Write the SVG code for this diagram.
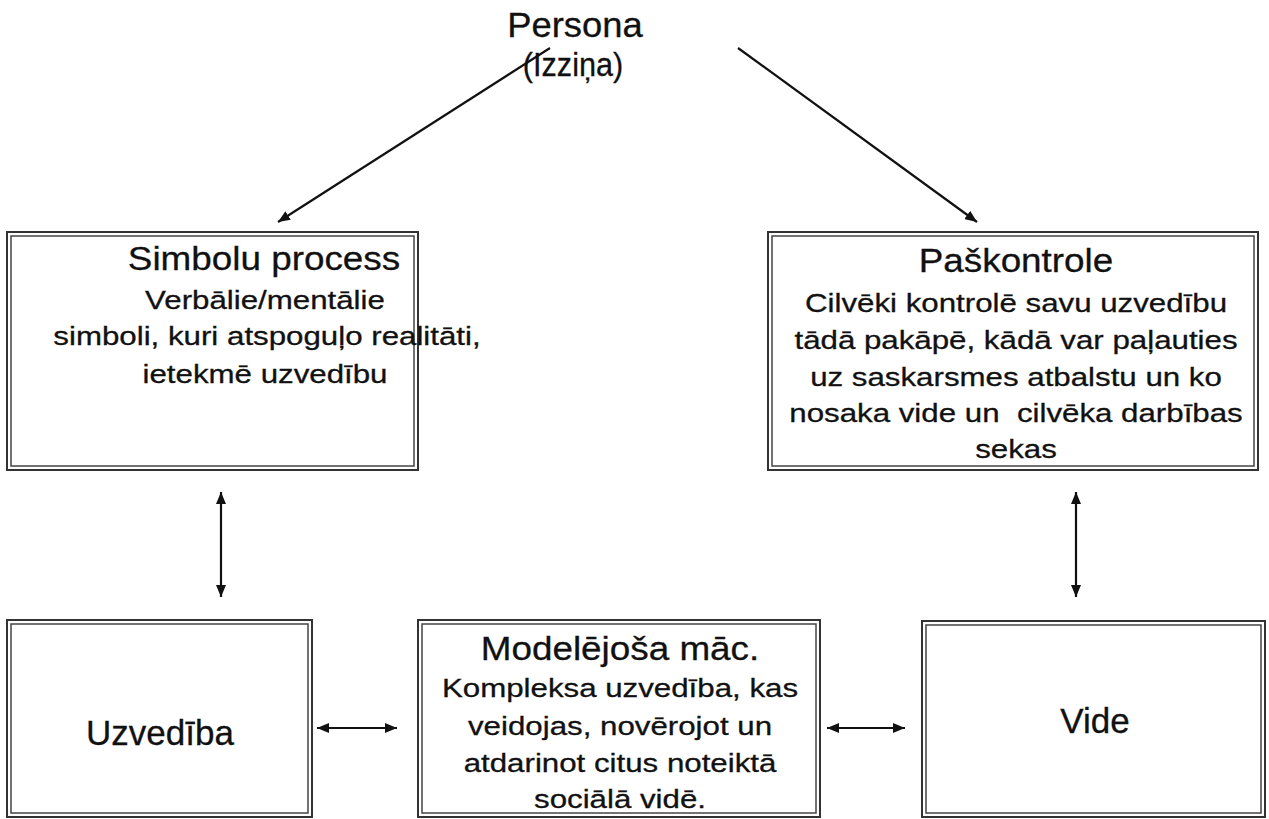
<svg xmlns="http://www.w3.org/2000/svg" width="1269" height="819" viewBox="0 0 1269 819">
<style>
text{font-family:"Liberation Sans",Arial,sans-serif;fill:#111;text-anchor:middle;stroke:#111;stroke-width:0.3}
.ti{font-size:33.5px}
.bd{font-size:26.5px}
.lb{font-size:35px}
.o{fill:#fff;stroke:#333;stroke-width:2}
.i{fill:none;stroke:#444;stroke-width:1.5}
.c{stroke:#111;stroke-width:2.2;fill:none}
</style>
<defs>
<marker id="ah" viewBox="0 0 12 10" refX="12" refY="5" markerWidth="12" markerHeight="10" orient="auto-start-reverse" markerUnits="userSpaceOnUse">
<path d="M0,0 L12,5 L0,10 z" fill="#111"/>
</marker>
</defs>
<rect width="1269" height="819" fill="#fff"/>

<g id="persona">
<text class="lb" transform="matrix(1.04 0 0 1 575 37)">Persona</text>
<text style="font-size:34px" transform="matrix(0.9 0 0 1 573 76)">(Izziņa)</text>
</g>

<g id="simbolu">
<rect class="o" x="7" y="232" width="411" height="238"/>
<rect class="i" x="11" y="236" width="403" height="230"/>
<text class="ti" transform="matrix(1.1 0 0 1 264 270)">Simbolu process</text>
<text class="bd" transform="matrix(1.18 0 0 1 265 309)">Verbālie/mentālie</text>
<text class="bd" transform="matrix(1.18 0 0 1 267 345)">simboli, kuri atspoguļo realitāti,</text>
<text class="bd" transform="matrix(1.18 0 0 1 265 383)">ietekmē uzvedību</text>
</g>

<g id="paskontrole">
<rect class="o" x="768" y="232" width="490" height="238"/>
<rect class="i" x="772" y="236" width="482" height="230"/>
<text class="ti" transform="matrix(1.1 0 0 1 1016 272)">Paškontrole</text>
<text class="bd" transform="matrix(1.18 0 0 1 1016 312)">Cilvēki kontrolē savu uzvedību</text>
<text class="bd" transform="matrix(1.18 0 0 1 1016 349)">tādā pakāpē, kādā var paļauties</text>
<text class="bd" transform="matrix(1.18 0 0 1 1016 386)">uz saskarsmes atbalstu un ko</text>
<text class="bd" transform="matrix(1.18 0 0 1 1016 422)" xml:space="preserve">nosaka vide un  cilvēka darbības</text>
<text class="bd" transform="matrix(1.18 0 0 1 1016 458)">sekas</text>
</g>

<g id="uzvediba">
<rect class="o" x="7" y="620" width="305" height="197"/>
<rect class="i" x="11" y="624" width="297" height="189"/>
<text class="lb" x="160" y="745">Uzvedība</text>
</g>

<g id="modelejosa">
<rect class="o" x="418" y="620" width="402" height="197"/>
<rect class="i" x="422" y="624" width="394" height="189"/>
<text class="ti" transform="matrix(1.1 0 0 1 620 660)">Modelējoša māc.</text>
<text class="bd" transform="matrix(1.18 0 0 1 620 697)">Kompleksa uzvedība, kas</text>
<text class="bd" transform="matrix(1.18 0 0 1 620 735)">veidojas, novērojot un</text>
<text class="bd" transform="matrix(1.18 0 0 1 620 772)">atdarinot citus noteiktā</text>
<text class="bd" transform="matrix(1.18 0 0 1 620 808)">sociālā vidē.</text>
</g>

<g id="vide">
<rect class="o" x="922" y="621" width="343" height="196"/>
<rect class="i" x="926" y="625" width="335" height="188"/>
<text class="lb" x="1095" y="733">Vide</text>
</g>

<g id="connectors">
<line class="c" x1="550" y1="48" x2="278" y2="222" marker-end="url(#ah)"/>
<line class="c" x1="738" y1="48" x2="977" y2="222" marker-end="url(#ah)"/>
<line class="c" x1="221" y1="492" x2="221" y2="597" marker-start="url(#ah)" marker-end="url(#ah)"/>
<line class="c" x1="1076" y1="492" x2="1076" y2="597" marker-start="url(#ah)" marker-end="url(#ah)"/>
<line class="c" x1="317" y1="728" x2="397" y2="728" marker-start="url(#ah)" marker-end="url(#ah)"/>
<line class="c" x1="827" y1="728" x2="905" y2="728" marker-start="url(#ah)" marker-end="url(#ah)"/>
</g>
</svg>
